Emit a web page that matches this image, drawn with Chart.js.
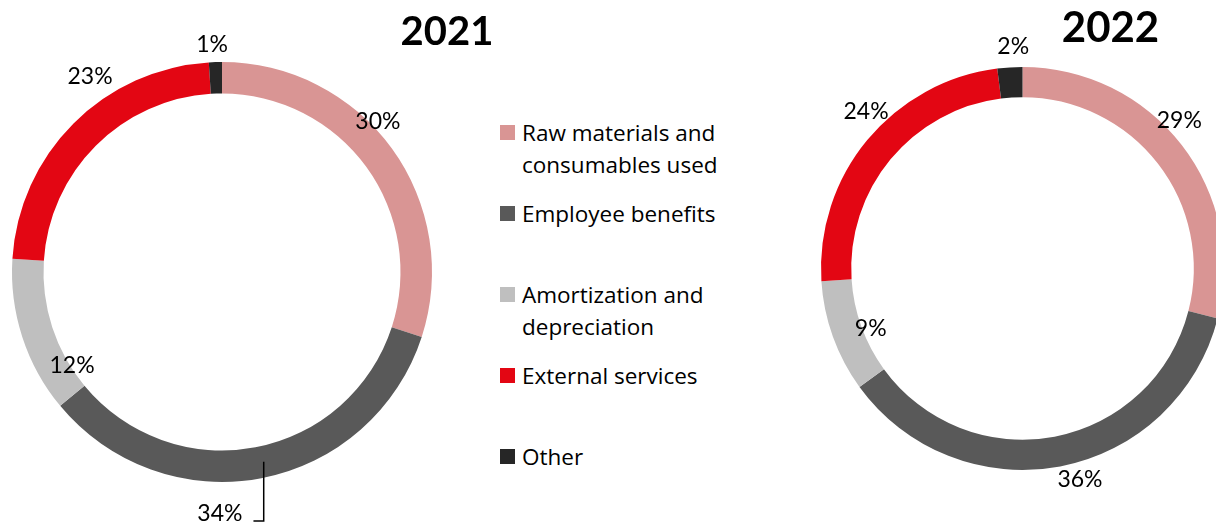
<!DOCTYPE html>
<html>
<head>
<meta charset="utf-8">
<title>Operating costs by type</title>
<script src="https://cdn.jsdelivr.net/npm/chart.js@4.4.1/dist/chart.umd.min.js"></script>
<style>
  html, body { margin: 0; padding: 0; background: #fff; }
  body { width: 1216px; height: 523px; position: relative; overflow: hidden; font-family: Lato, sans-serif; }
  .ring { position: absolute; top: 0; }
  #chart2021 { left: 0; }
  #chart2022 { left: 800px; }
  #legend { position: absolute; left: 500px; top: 117px; margin: 0; padding: 0; list-style: none; }
  #legend li { position: relative; height: 81px; width: 225px; padding-left: 22px; font-family: 'Open Sans', sans-serif; font-size: 22.5px; line-height: 32px; color: #000; }
  #legend li span { position: absolute; left: 0; top: 8px; width: 15px; height: 15px; }
</style>
</head>
<body>
<canvas id="chart2021" class="ring" width="500" height="523"></canvas>
<canvas id="chart2022" class="ring" width="450" height="523"></canvas>
<ul id="legend"></ul>
<script>
const categories = ['Raw materials and consumables used', 'Employee benefits', 'Amortization and depreciation', 'External services', 'Other'];
const share2021 = [30, 34, 12, 23, 1];
const share2022 = [29, 36, 9, 24, 2];
const years = ['2021', '2022'];
const palette = ['#D99594', '#595959', '#BFBFBF', '#E30613', '#262626'];

// percent labels around the ring, the year caption and an optional leader line
const ringLabels = {
  id: 'ringLabels',
  afterDatasetsDraw(chart, args, opts) {
    const ctx = chart.ctx;
    const values = chart.data.datasets[0].data;
    const arcs = chart.getDatasetMeta(0).data;
    const deg = Math.PI / 180;
    let cx = 0, cy = 0;
    ctx.save();
    ctx.fillStyle = '#000';
    ctx.strokeStyle = '#000';
    ctx.textAlign = 'center';
    ctx.textBaseline = 'middle';
    ctx.font = '23px Lato';
    arcs.forEach((arc, i) => {
      const p = arc.getProps(['x', 'y', 'startAngle', 'endAngle', 'outerRadius', 'innerRadius'], true);
      cx = p.x; cy = p.y;
      const mid = (p.startAngle + p.endAngle) / 2;
      const [shift, k] = opts.spots[i];
      const a = mid + shift * deg;
      const lx = p.x + Math.cos(a) * p.outerRadius * k;
      const ly = p.y + Math.sin(a) * p.outerRadius * k;
      const text = values[i] + '%';
      ctx.fillText(text, lx, ly);
      if (opts.leader && opts.leader.index === i) {
        const la = mid + opts.leader.shift * deg;
        const r = (p.outerRadius + p.innerRadius) / 2;
        const px = p.x + Math.cos(la) * r;
        const py = p.y + Math.sin(la) * r;
        const right = lx + ctx.measureText(text).width / 2 + 11;
        const by = ly + 7.5;
        ctx.lineWidth = 1.5;
        ctx.beginPath();
        ctx.moveTo(px, py);
        ctx.lineTo(px, by);
        ctx.lineTo(right, by);
        ctx.stroke();
      }
    });
    ctx.font = 'bold ' + opts.titleSize + 'px Lato';
    ctx.fillText(opts.title, cx + opts.titleDx, cy + opts.titleDy);
    ctx.restore();
  }
};

function ringChart(id, values, padding, cfg) {
  return new Chart(document.getElementById(id), {
    type: 'doughnut',
    data: {
      labels: categories,
      datasets: [{
        data: values,
        backgroundColor: palette,
        borderWidth: 0,
        hoverOffset: 0,
        offset: 0
      }]
    },
    options: {
      responsive: false,
      animation: false,
      cutout: '85%',
      layout: { padding: padding },
      events: [],
      plugins: {
        legend: { display: false },
        tooltip: { enabled: false },
        ringLabels: cfg
      }
    },
    plugins: [ringLabels]
  });
}

ringChart('chart2021', share2021, { left: 12, right: 68, top: 62, bottom: 41 }, {
  title: years[0], titleSize: 40, titleDx: 225, titleDy: -240,
  spots: [[-8, 1.032], [11.3, 1.15], [-14.1, 0.843], [11, 1.124], [-0.7, 1.086]],
  leader: { index: 1, shift: -1.6 }
});

ringChart('chart2022', share2022, { left: 21, right: 26, top: 67, bottom: 53 }, {
  title: years[1], titleSize: 42, titleDx: 88, titleDy: -240,
  spots: [[-5.6, 1.071], [-4.4, 1.088], [-1.8, 0.81], [5.5, 1.10], [1.2, 1.10]]
});

// legend shared by both rings
const legend = document.getElementById('legend');
categories.forEach((name, i) => {
  const li = document.createElement('li');
  const box = document.createElement('span');
  box.style.background = palette[i];
  li.appendChild(box);
  li.appendChild(document.createTextNode(name));
  legend.appendChild(li);
});
</script>
</body>
</html>
